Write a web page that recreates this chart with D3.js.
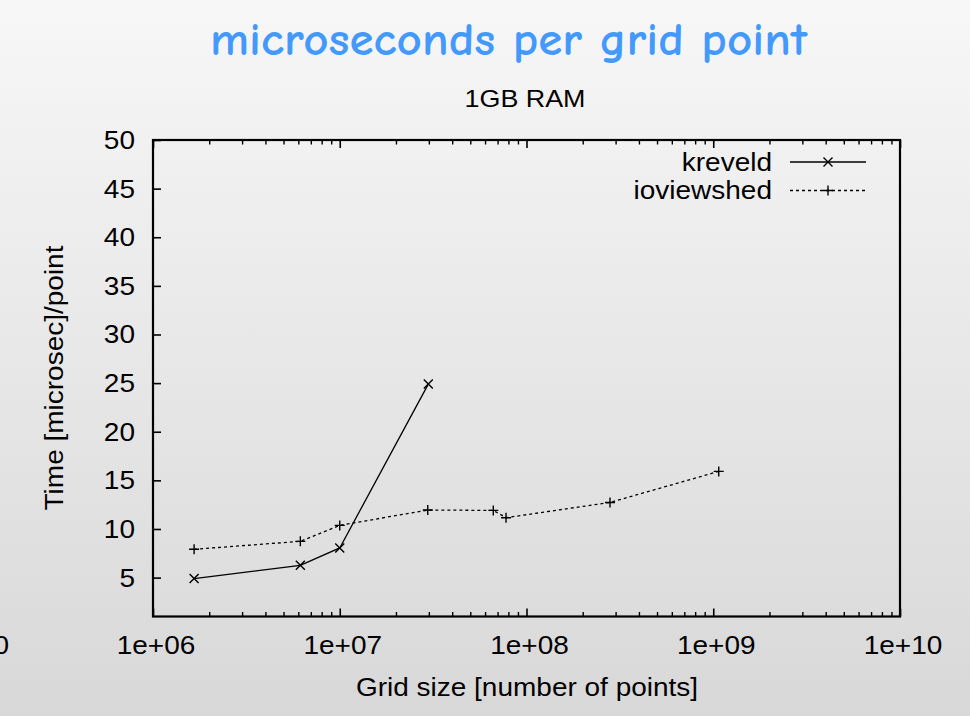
<!DOCTYPE html>
<html>
<head>
<meta charset="utf-8">
<script src="https://cdn.jsdelivr.net/npm/d3@7"></script>
<style>
  html, body { margin: 0; padding: 0; }
  body { width: 970px; height: 716px; overflow: hidden; }
  svg text { font-family: "Liberation Sans", Arial, Helvetica, sans-serif; fill: #000; }
</style>
</head>
<body>
<svg id="chart" width="970" height="716"></svg>
<script>
// ---- data ----
const kreveldX = [1.66e6, 6.15e6, 1.0e7, 2.98e7];
const kreveldY = [4.9, 6.26, 8.05, 24.9];
const ioviewshedX = [1.66e6, 6.15e6, 1.0e7, 2.96e7, 6.64e7, 7.77e7, 2.80e8, 1.07e9];
const ioviewshedY = [7.91, 8.73, 10.37, 11.95, 11.91, 11.16, 12.73, 15.92];
const xTickValues = [1e5, 1e6, 1e7, 1e8, 1e9, 1e10];
const xTickLabels = ["100000", "1e+06", "1e+07", "1e+08", "1e+09", "1e+10"];
const yTickValues = [5, 10, 15, 20, 25, 30, 35, 40, 45, 50];
const seriesNames = ["kreveld", "ioviewshed"];
const titleText = "microseconds per grid point";
const subtitleText = "1GB RAM";
const xTitle = "Grid size [number of points]";
const yTitle = "Time [microsec]/point";

// ---- layout ----
const W = 970, H = 716;
const plot = { left: 153, right: 900, top: 140, bottom: 616.5 };
const SX = 1.12; // horizontal stretch of the gnuplot font
const FS = 25;

const svg = d3.select("#chart");
const defs = svg.append("defs");
const grad = defs.append("linearGradient").attr("id", "bg").attr("x1", 0).attr("y1", 0).attr("x2", 0).attr("y2", 1);
grad.append("stop").attr("offset", "0%").attr("stop-color", "#f7f7f7");
grad.append("stop").attr("offset", "100%").attr("stop-color", "#d8d8d8");
svg.append("rect").attr("width", W).attr("height", H).attr("fill", "url(#bg)");

const x = d3.scaleLog().domain([1e6, 1e10]).range([plot.left, plot.right]);
const y = d3.scaleLinear().domain([1, 50]).range([plot.bottom, plot.top]);

function stretchText(g, tx, ty, str, anchor, size, rotate) {
  return g.append("text")
    .attr("transform", `translate(${tx},${ty})` + (rotate ? ` rotate(${rotate})` : "") + ` scale(${SX},1)`)
    .attr("text-anchor", anchor)
    .attr("font-size", size)
    .text(str);
}

// ---- title ----
svg.append("text")
  .attr("x", 210).attr("y", 55)
  .attr("textLength", 597).attr("lengthAdjust", "spacingAndGlyphs")
  .style("font-family", "'Comic Sans MS', 'Comic Neue', Lato, sans-serif")
  .attr("font-size", 46)
  .attr("font-weight", "bold")
  .style("fill", "#4499ff")
  .text(titleText);

stretchText(svg, 525, 107, subtitleText, "middle", 24);

// ---- minor ticks ----
const minorVals = [];
for (let e = 6; e < 10; e++) for (let m = 2; m <= 9; m++) minorVals.push(m * Math.pow(10, e));

const axStroke = "#000";
function styleAxis(g, w) {
  g.select(".domain").remove();
  g.selectAll(".tick line").attr("stroke", axStroke).attr("stroke-width", w);
}

// bottom major
svg.append("g").attr("transform", `translate(0,${plot.bottom})`)
  .call(d3.axisBottom(x).tickValues(xTickValues.slice(1)).tickSize(-8).tickFormat(""))
  .call(g => styleAxis(g, 1.6));
svg.append("g").attr("transform", `translate(0,${plot.bottom})`)
  .call(d3.axisBottom(x).tickValues(minorVals).tickSize(-4.5).tickFormat(""))
  .call(g => styleAxis(g, 1.4));
// top mirror
svg.append("g").attr("transform", `translate(0,${plot.top})`)
  .call(d3.axisTop(x).tickValues(xTickValues.slice(1)).tickSize(-8).tickFormat(""))
  .call(g => styleAxis(g, 1.6));
svg.append("g").attr("transform", `translate(0,${plot.top})`)
  .call(d3.axisTop(x).tickValues(minorVals).tickSize(-4.5).tickFormat(""))
  .call(g => styleAxis(g, 1.4));
// left
svg.append("g").attr("transform", `translate(${plot.left},0)`)
  .call(d3.axisLeft(y).tickValues(yTickValues).tickSize(-8).tickFormat(""))
  .call(g => styleAxis(g, 1.6));

// tick labels
const xl = svg.append("g");
xTickValues.forEach((v, i) => stretchText(xl, x(v) + (i === 0 ? -4 : 3), 654, xTickLabels[i], "middle", FS));
const yl = svg.append("g");
yTickValues.forEach(v => stretchText(yl, 135, y(v) + 9, String(v), "end", FS));

// axis titles
stretchText(svg, 527, 696, xTitle, "middle", FS);
svg.append("text")
  .attr("transform", `translate(63,378) rotate(-90) scale(${SX},1)`)
  .attr("text-anchor", "middle").attr("font-size", FS).text(yTitle);

// frame
svg.append("rect")
  .attr("x", plot.left).attr("y", plot.top)
  .attr("width", plot.right - plot.left).attr("height", plot.bottom - plot.top)
  .attr("fill", "none").attr("stroke", "#000").attr("stroke-width", 2.2);

// ---- series ----
const kreveld = kreveldX.map((v, i) => [v, kreveldY[i]]);
const iov = ioviewshedX.map((v, i) => [v, ioviewshedY[i]]);
const line = d3.line().x(d => x(d[0])).y(d => y(d[1]));

svg.append("path").datum(iov).attr("d", line)
  .attr("fill", "none").attr("stroke", "#000").attr("stroke-width", 1.3)
  .attr("stroke-dasharray", "3,3");
svg.append("path").datum(kreveld).attr("d", line)
  .attr("fill", "none").attr("stroke", "#000").attr("stroke-width", 1.3);

const crossPath = "M-4.5,-4.5L4.5,4.5M-4.5,4.5L4.5,-4.5";
const plusPath = "M-5,0L5,0M0,-5L0,5";
svg.append("g").selectAll("path").data(kreveld).join("path")
  .attr("transform", d => `translate(${x(d[0])},${y(d[1])})`)
  .attr("d", crossPath).attr("stroke", "#000").attr("stroke-width", 1.4).attr("fill", "none");
svg.append("g").selectAll("path").data(iov).join("path")
  .attr("transform", d => `translate(${x(d[0])},${y(d[1])})`)
  .attr("d", plusPath).attr("stroke", "#000").attr("stroke-width", 1.4).attr("fill", "none");

// ---- legend ----
const leg = svg.append("g");
const legRows = [
  { name: seriesNames[0], ly: 162, dash: null, mark: crossPath },
  { name: seriesNames[1], ly: 190.5, dash: "3,3", mark: plusPath }
];
legRows.forEach(r => {
  stretchText(leg, 772, r.ly + 8.5, r.name, "end", FS);
  leg.append("line").attr("x1", 790).attr("x2", 866).attr("y1", r.ly).attr("y2", r.ly)
    .attr("stroke", "#000").attr("stroke-width", 1.3).attr("stroke-dasharray", r.dash);
  leg.append("path").attr("transform", `translate(828,${r.ly})`).attr("d", r.mark)
    .attr("stroke", "#000").attr("stroke-width", 1.4).attr("fill", "none");
});
</script>
</body>
</html>
